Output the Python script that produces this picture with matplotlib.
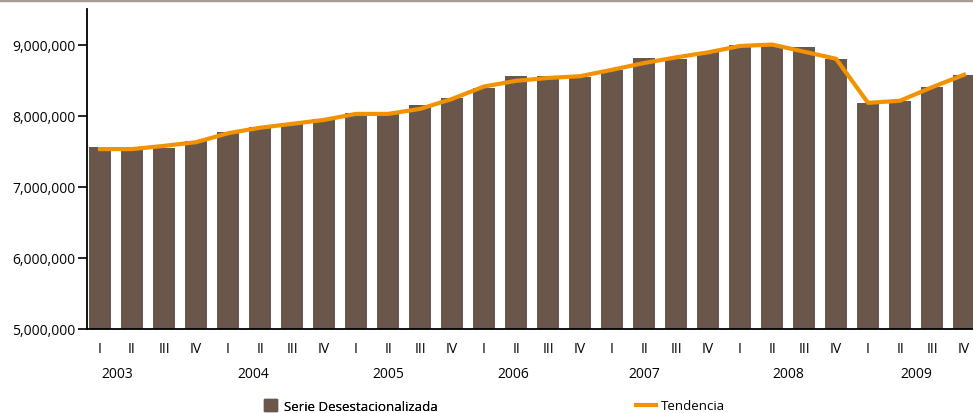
import matplotlib.pyplot as plt
import matplotlib.transforms as mtransforms
from matplotlib.lines import Line2D
from matplotlib.patches import Patch
import numpy as np

plt.rcParams['font.family'] = ['Open Sans', 'DejaVu Sans']

# Quarterly data 2003-2009
quarters = ['I', 'II', 'III', 'IV'] * 7
years = ['2003', '2004', '2005', '2006', '2007', '2008', '2009']

serie = [7565000, 7520000, 7540000, 7646000, 7772000, 7847000, 7890000, 7955000,
         8040000, 8025000, 8150000, 8250000, 8390000, 8560000, 8560000, 8550000,
         8645000, 8810000, 8800000, 8900000, 9000000, 9000000, 8970000, 8800000,
         8180000, 8200000, 8405000, 8574000]

tendencia = [7530000, 7530000, 7575000, 7627000, 7753000, 7830000, 7885000, 7940000,
             8025000, 8025000, 8095000, 8235000, 8410000, 8490000, 8530000, 8555000,
             8645000, 8740000, 8820000, 8890000, 8980000, 9000000, 8900000, 8800000,
             8180000, 8210000, 8400000, 8575000]

yticks = [5000000, 6000000, 7000000, 8000000, 9000000]

# where the year labels sit (in bar units)
year_pos = [0.53, 4.78, 9.0, 12.9, 17.0, 21.5, 25.5]

bar_color = '#68574a'
line_color = '#f39200'

fig = plt.figure(figsize=(9.73, 4.14), dpi=100)
ax = fig.add_axes([87 / 973, 1 - 330 / 414, 886 / 973, 320 / 414])

x = np.arange(len(serie))
ax.bar(x, serie, width=0.6875, color=bar_color, zorder=2)
ax.plot(x, tendencia, color=line_color, linewidth=3, zorder=3)

ax.set_ylim(5000000, 9500000)
ax.set_xlim(-0.406, 27.28)
ax.set_yticks(yticks)
ax.set_yticklabels([f"{v:,}" for v in yticks])
ax.tick_params(axis='y', length=6.5, width=1.2, pad=2, labelsize=10)

ax.set_xticks(x)
ax.set_xticklabels(quarters)
ax.tick_params(axis='x', length=0, pad=9, labelsize=10)

for sp in ['top', 'right']:
    ax.spines[sp].set_visible(False)
for sp in ['left', 'bottom']:
    ax.spines[sp].set_linewidth(1.3)

# year labels below the quarter labels
trans = mtransforms.blended_transform_factory(ax.transData, fig.transFigure)
for pos, yr in zip(year_pos, years):
    ax.text(pos, 1 - 375 / 414, yr, transform=trans, ha='center', va='center', fontsize=10)

# gray rule at the top
fig.add_artist(Line2D([0, 1], [0.998, 0.998], color='#a89b92', linewidth=2.5,
                      transform=fig.transFigure))

# legends
leg1 = fig.legend(handles=[Patch(color=bar_color, label='Serie Desestacionalizada')],
                  loc='center left', bbox_to_anchor=(264 / 973, 1 - 407 / 414),
                  frameon=False, fontsize=9.6, borderpad=0, borderaxespad=0,
                  handlelength=0.97, handleheight=0.97, handletextpad=0.55)
leg2 = fig.legend(handles=[Line2D([], [], color=line_color, linewidth=3, label='Tendencia')],
                  loc='center left', bbox_to_anchor=(636 / 973, 1 - 407 / 414),
                  frameon=False, fontsize=9.6, borderpad=0, borderaxespad=0,
                  handlelength=1.5, handletextpad=0.35)
fig.add_artist(leg1)

fig.savefig('out.png', dpi=100)
